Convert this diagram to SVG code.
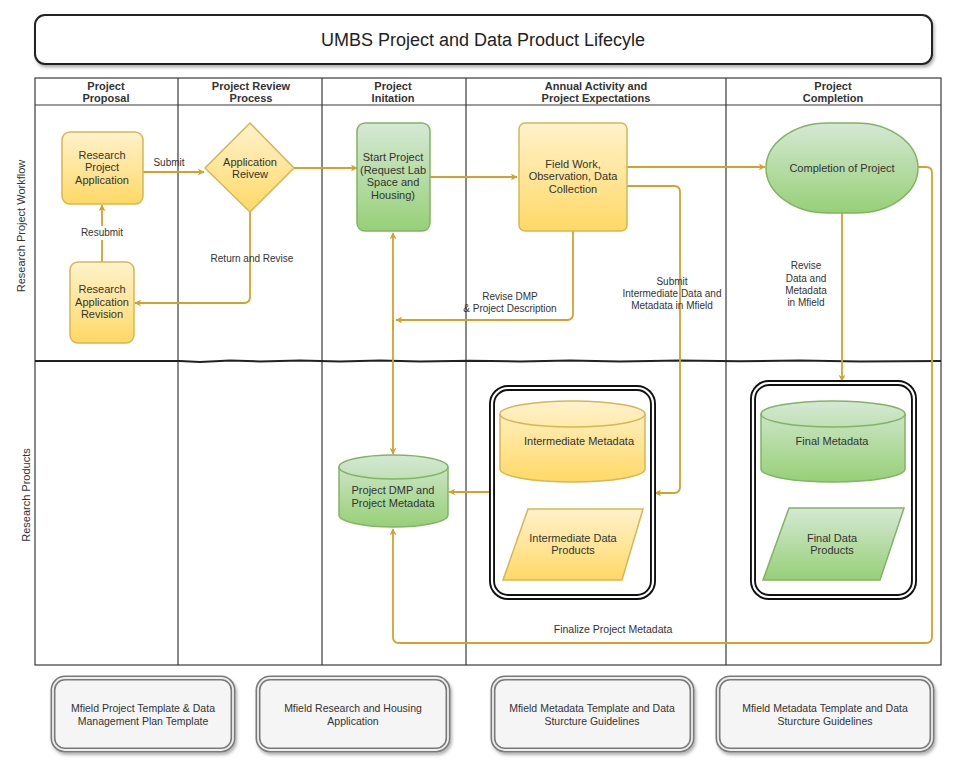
<svg xmlns="http://www.w3.org/2000/svg" width="960" height="769" viewBox="0 0 960 769">
<defs>
<linearGradient id="gy" x1="0" y1="0" x2="0" y2="1"><stop offset="0" stop-color="#fff2cc"/><stop offset="1" stop-color="#ffd966"/></linearGradient>
<linearGradient id="gg" x1="0" y1="0" x2="0" y2="1"><stop offset="0" stop-color="#d5e8d4"/><stop offset="1" stop-color="#97d077"/></linearGradient>
<marker id="ar" viewBox="0 0 10 10" refX="9" refY="5" markerWidth="7" markerHeight="7" orient="auto-start-reverse" markerUnits="userSpaceOnUse">
<path d="M0,0 L10,5 L0,10 L3,5 z" fill="#d4a22c"/>
</marker>
<filter id="sh" x="-10%" y="-10%" width="130%" height="140%"><feDropShadow dx="1.5" dy="2.5" stdDeviation="1.5" flood-color="#000" flood-opacity="0.3"/></filter>
</defs>
<style>
text{font-family:"Liberation Sans",Arial,sans-serif;fill:#333;}
.t{font-size:11px;text-anchor:middle;}
.h{font-size:11px;font-weight:bold;text-anchor:middle;}
.lbl{font-size:10px;text-anchor:middle;}
.grid{stroke:#3a3a3a;stroke-width:1.2;fill:none;}
.y{fill:url(#gy);stroke:#d6b656;stroke-width:1.5;}
.g{fill:url(#gg);stroke:#82b366;stroke-width:1.5;}
.c{fill:none;stroke:#d4a22c;stroke-width:1.8;stroke-linejoin:round;}
.ca{fill:none;stroke:#d4a22c;stroke-width:1.8;stroke-linejoin:round;marker-end:url(#ar);}
.cont1{fill:none;stroke:#111;stroke-width:6;}
.cont2{fill:none;stroke:#fff;stroke-width:2.2;}
.bb1{fill:#f5f5f5;stroke:#7a7a7a;stroke-width:5;}
.bb2{fill:none;stroke:#eeeeee;stroke-width:1.8;}
.bt{font-size:10.5px;text-anchor:middle;fill:#333;}
</style>

<g id="title">
<rect x="35" y="15" width="897" height="49" rx="10" fill="#fff" stroke="#222" stroke-width="2" filter="url(#sh)"/>
<text x="483" y="46" style="font-size:18px;text-anchor:middle;fill:#222">UMBS Project and Data Product Lifecyle</text>
</g>

<g id="swimlanes">
<rect class="grid" x="35" y="78" width="906" height="587"/>
<line class="grid" x1="35" y1="105" x2="941" y2="105"/>
<line class="grid" x1="178" y1="78" x2="178" y2="665"/>
<line class="grid" x1="322" y1="78" x2="322" y2="665"/>
<line class="grid" x1="466" y1="78" x2="466" y2="665"/>
<line class="grid" x1="726" y1="78" x2="726" y2="665"/>
<path d="M35,361 L180,361 L200,362 L230,360.5 L260,361.5 L300,360.6 L340,361.4 L380,360.5 L420,361.6 L470,360.7 L520,361.5 L570,360.4 L620,361.6 L680,360.6 L740,361.3 L800,360.6 L860,361.4 L941,361" fill="none" stroke="#222" stroke-width="2"/>
<text class="h"><tspan x="106" y="90">Project</tspan><tspan x="106" y="102">Proposal</tspan></text>
<text class="h"><tspan x="251" y="90">Project Review</tspan><tspan x="251" y="102">Process</tspan></text>
<text class="h"><tspan x="393" y="90">Project</tspan><tspan x="393" y="102">Initation</tspan></text>
<text class="h"><tspan x="596" y="90">Annual Activity and</tspan><tspan x="596" y="102">Project Expectations</tspan></text>
<text class="h"><tspan x="833" y="90">Project</tspan><tspan x="833" y="102">Completion</tspan></text>
<text class="t" transform="translate(25,226) rotate(-90)">Research Project Workflow</text>
<text class="t" transform="translate(30,495) rotate(-90)">Research Products</text>
</g>

<g id="connectors">
<path class="ca" d="M143,172 L204,172"/>
<text class="lbl" x="169" y="166">Submit</text>
<path class="ca" d="M294,168 L357,168"/>
<path class="ca" d="M250,212 L250,297 Q250,303 244,303 L135,303"/>
<text class="lbl" x="252" y="262">Return and Revise</text>
<path class="c" d="M102,262 L102,240"/>
<path class="ca" d="M102,226 L102,205"/>
<text class="lbl" x="102" y="236">Resubmit</text>
<path class="ca" d="M430,177 L517,177"/>
<path class="ca" d="M627,167 L765,167"/>
<path class="ca" d="M627,186 L674,186 Q680,186 680,192 L680,487 Q680,493 674,493 L655,493"/>
<text class="lbl"><tspan x="672" y="285">Submit</tspan><tspan x="672" y="297">Intermediate Data and</tspan><tspan x="672" y="309">Metadata in Mfield</tspan></text>
<path class="ca" d="M573,231 L573,314 Q573,320 567,320 L396,320"/>
<text class="lbl"><tspan x="510" y="300">Revise DMP</tspan><tspan x="510" y="312">&amp; Project Description</tspan></text>
<path class="ca" d="M393,330 L393,233"/>
<path class="ca" d="M393,320 L393,454"/>
<path class="ca" d="M492,492 L449,492"/>
<path class="ca" d="M842,213 L842,381"/>
<text class="lbl"><tspan x="806" y="269">Revise</tspan><tspan x="806" y="282">Data and</tspan><tspan x="806" y="294">Metadata</tspan><tspan x="806" y="306">in Mfield</tspan></text>
<path class="ca" d="M918,167 L926,167 Q932,167 932,173 L932,637 Q932,643 926,643 L399,643 Q393,643 393,637 L393,529"/>
<text class="lbl" x="613" y="633" style="font-size:10.5px">Finalize Project Metadata</text>
</g>

<g id="research-project-application">
<rect class="y" x="62" y="132" width="81" height="72" rx="8"/>
<text class="t"><tspan x="102" y="159">Research</tspan><tspan x="102" y="171">Project</tspan><tspan x="102" y="184">Application</tspan></text>
</g>

<g id="research-application-revision">
<rect class="y" x="70" y="262" width="64" height="81" rx="8"/>
<text class="t"><tspan x="102" y="293">Research</tspan><tspan x="102" y="306">Application</tspan><tspan x="102" y="318">Revision</tspan></text>
</g>

<g id="application-review">
<polygon class="y" points="250,123 294,168 250,212 205,168"/>
<text class="t"><tspan x="250" y="166">Application</tspan><tspan x="250" y="178">Reivew</tspan></text>
</g>

<g id="start-project">
<rect class="g" x="357" y="123" width="73" height="108" rx="8"/>
<text class="t"><tspan x="393" y="161">Start Project</tspan><tspan x="393" y="174">(Request Lab</tspan><tspan x="393" y="186">Space and</tspan><tspan x="393" y="199">Housing)</tspan></text>
</g>

<g id="field-work">
<rect class="y" x="519" y="123" width="108" height="108" rx="6"/>
<text class="t"><tspan x="573" y="168">Field Work,</tspan><tspan x="573" y="180">Observation, Data</tspan><tspan x="573" y="193">Collection</tspan></text>
</g>

<g id="completion-of-project">
<rect class="g" x="766" y="123" width="152" height="90" rx="62" ry="45"/>
<text class="t" x="842" y="172">Completion of Project</text>
</g>

<g id="project-dmp">
<path class="g" d="M339,467 A54.5,12 0 0 1 448,467 L448,515 A54.5,12 0 0 1 339,515 Z"/>
<path d="M339,467 A54.5,12 0 0 0 448,467" fill="none" stroke="#82b366" stroke-width="1.5"/>
<text class="t"><tspan x="393" y="494">Project DMP and</tspan><tspan x="393" y="507">Project Metadata</tspan></text>
</g>

<g id="intermediate-container">
<rect class="cont1" x="492" y="388" width="161" height="209" rx="16"/>
<rect class="cont2" x="492" y="388" width="161" height="209" rx="16"/>
</g>

<g id="intermediate-metadata">
<path class="y" d="M500,414 A72.5,13 0 0 1 645,414 L645,469 A72.5,13 0 0 1 500,469 Z"/>
<path d="M500,414 A72.5,13 0 0 0 645,414" fill="none" stroke="#d6b656" stroke-width="1.5"/>
<text class="t" x="579" y="445">Intermediate Metadata</text>
</g>

<g id="intermediate-data-products">
<polygon class="y" points="528,509 643,509 622,580 503,580"/>
<text class="t"><tspan x="573" y="542">Intermediate Data</tspan><tspan x="573" y="554">Products</tspan></text>
</g>

<g id="final-container">
<rect class="cont1" x="753" y="383" width="161" height="214" rx="16"/>
<rect class="cont2" x="753" y="383" width="161" height="214" rx="16"/>
</g>

<g id="final-metadata">
<path class="g" d="M761,414 A72,13 0 0 1 905,414 L905,469 A72,13 0 0 1 761,469 Z"/>
<path d="M761,414 A72,13 0 0 0 905,414" fill="none" stroke="#82b366" stroke-width="1.5"/>
<text class="t" x="832" y="445">Final Metadata</text>
</g>

<g id="final-data-products">
<polygon class="g" points="789,508 904,508 880,580 763,580"/>
<text class="t"><tspan x="832" y="542">Final Data</tspan><tspan x="832" y="554">Products</tspan></text>
</g>

<g id="resource-1">
<rect class="bb1" x="53" y="678" width="180" height="72" rx="12" filter="url(#sh)"/>
<rect class="bb2" x="53" y="678" width="180" height="72" rx="12"/>
<text class="bt"><tspan x="143" y="712">Mfield Project Template &amp; Data</tspan><tspan x="143" y="725">Management Plan Template</tspan></text>
</g>
<g id="resource-2">
<rect class="bb1" x="258" y="678" width="190" height="72" rx="12" filter="url(#sh)"/>
<rect class="bb2" x="258" y="678" width="190" height="72" rx="12"/>
<text class="bt"><tspan x="353" y="712">Mfield Research and Housing</tspan><tspan x="353" y="725">Application</tspan></text>
</g>
<g id="resource-3">
<rect class="bb1" x="493" y="678" width="199" height="72" rx="12" filter="url(#sh)"/>
<rect class="bb2" x="493" y="678" width="199" height="72" rx="12"/>
<text class="bt"><tspan x="592" y="712">Mfield Metadata Template and Data</tspan><tspan x="592" y="725">Sturcture Guidelines</tspan></text>
</g>
<g id="resource-4">
<rect class="bb1" x="718" y="678" width="214" height="72" rx="12" filter="url(#sh)"/>
<rect class="bb2" x="718" y="678" width="214" height="72" rx="12"/>
<text class="bt"><tspan x="825" y="712">Mfield Metadata Template and Data</tspan><tspan x="825" y="725">Sturcture Guidelines</tspan></text>
</g>
</svg>
